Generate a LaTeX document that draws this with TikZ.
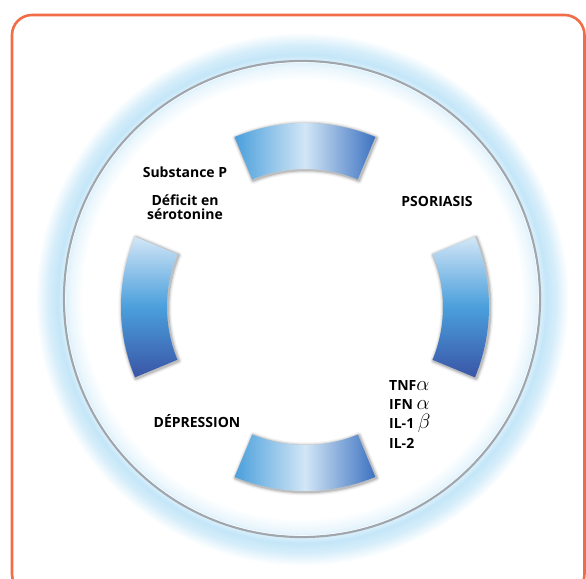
\documentclass[tikz,border=0pt]{standalone}
\usepackage{fontspec}
\setsansfont{Open Sans}
\usetikzlibrary{positioning}
\definecolor{frameorange}{HTML}{F26D47}
\definecolor{haloblue}{HTML}{C4E6F8}
\definecolor{ringgray}{HTML}{A0A6AC}
\definecolor{segblue}{HTML}{4A9FDC}
\definecolor{seglight}{HTML}{D2E6F6}
\definecolor{segdark}{HTML}{3D72C0}
\definecolor{segnavy}{HTML}{3A55A6}
\pgfdeclareradialshading{halo}{\pgfpoint{0bp}{0bp}}{%
  color(0bp)=(white); color(20.3bp)=(white); color(21.5bp)=(haloblue!35);
  color(22.2bp)=(haloblue!70); color(22.6bp)=(haloblue); color(23.5bp)=(haloblue!70);
  color(24.7bp)=(white); color(25bp)=(white); color(50bp)=(white)}
\newcommand{\ringpart}[2]{(#1:184) arc[start angle=#1, end angle=#2, radius=184]
  -- (#2:138) arc[start angle=#2, end angle=#1, radius=138] -- cycle}
\newcommand{\greek}[1]{{\fontsize{20}{18}\selectfont$#1$}}

\begin{document}
\begin{tikzpicture}[
  x=1pt,
  y=1pt,
  textlabel/.style={font=\sffamily\bfseries\fontsize{14}{14}\selectfont, align=center, inner sep=0pt},
  shadeh/.style={left color=segblue, right color=segdark, middle color=seglight},
  shadev/.style={top color=seglight, bottom color=segnavy, middle color=segblue},
  segshadow/.style={draw=black, line join=round}
]

\clip (0,0) rectangle (586,578);
\useasboundingbox (0,0) rectangle (586,578);

% glowing ring
\shade[shading=halo] (302,279) circle[radius=270];
\draw[ringgray, line width=2.2pt] (302,279) circle[radius=238];
\draw[white, line width=0.6pt, opacity=0.8] (302,279) circle[radius=236.5];

% frame
\draw[frameorange, line width=2.6pt, rounded corners=20pt] (12,-16) rectangle (584.5,563);

% four ring parts
\begin{scope}[shift={(305,271)}]
\foreach \ang/\look in {90/shadeh, 270/shadeh, 180/shadev, 0/shadev} {
  \pgfmathsetmacro\angA{\ang-22.5}
  \pgfmathsetmacro\angB{\ang+22.5}
  \foreach \w/\op in {7/0.05, 4.5/0.08, 2.5/0.14}
    \draw[segshadow, opacity=\op, line width=\w pt, shift={(1,-1)}] \ringpart{\angA}{\angB};
  \shade[\look] \ringpart{\angA}{\angB};
}
\end{scope}

% labels
\node[textlabel] (subst) at (185,406) {Substance P};
\node[textlabel] (deficit) at (185,371) {Déficit en\\sérotonine};
\node[textlabel] (psoriasis) at (437,377) {PSORIASIS};
\node[textlabel] (depression) at (197,157) {DÉPRESSION};
\node[textlabel, anchor=base west] (tnf) at (389,187) {TNF\greek{\alpha}};
\node[textlabel, anchor=base west] (ifn) at (389,168) {IFN \greek{\alpha}};
\node[textlabel, anchor=base west] (ilone) at (389,149) {IL-1 \greek{\beta}};
\node[textlabel, anchor=base west] (iltwo) at (389,129) {IL-2};

\end{tikzpicture}
\end{document}
